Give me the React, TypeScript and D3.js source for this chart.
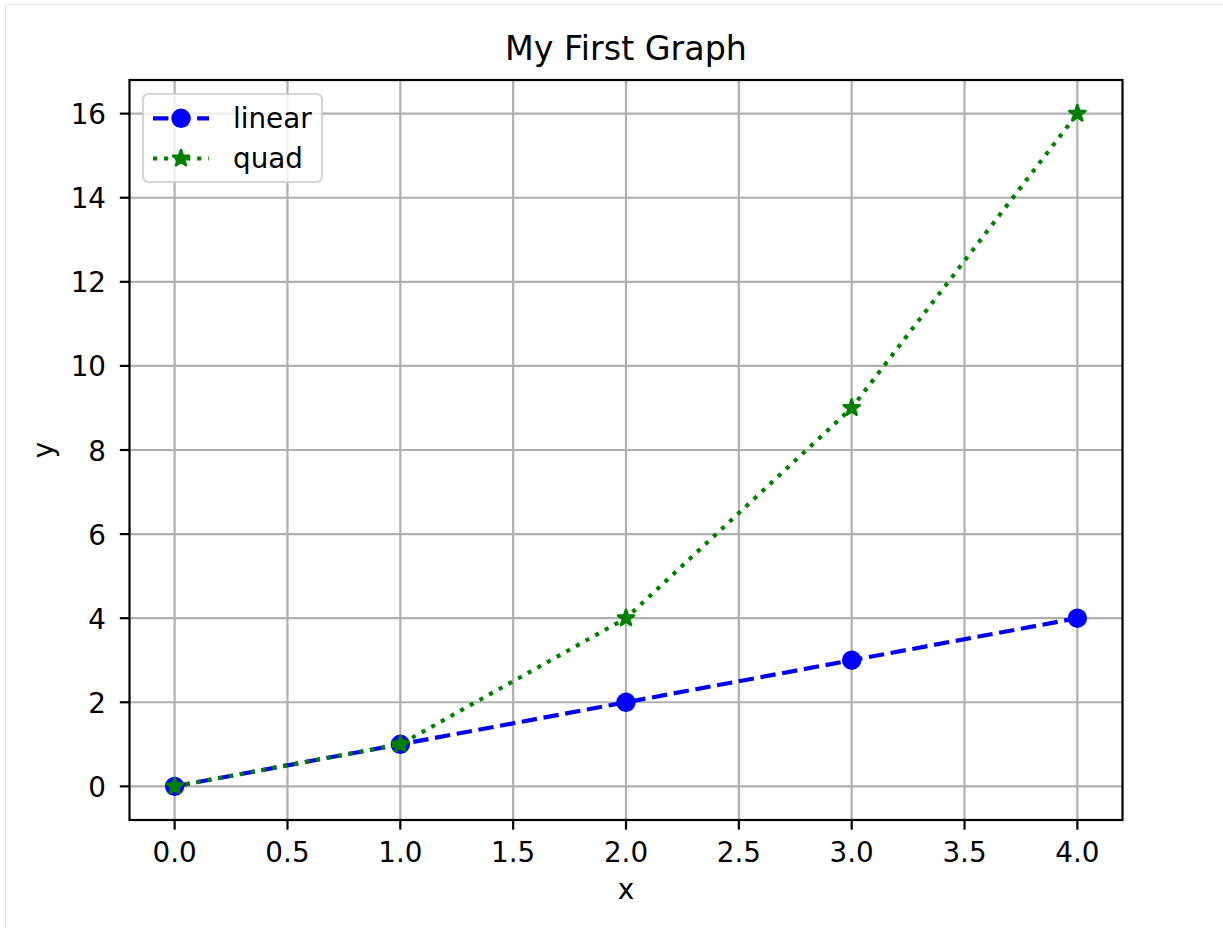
import React from "react";
import * as d3 from "d3";

const xValues = [0, 1, 2, 3, 4];
const linearValues = [0, 1, 2, 3, 4];
const quadValues = [0, 1, 4, 9, 16];
const xTicks = [0, 0.5, 1, 1.5, 2, 2.5, 3, 3.5, 4];
const yTicks = [0, 2, 4, 6, 8, 10, 12, 14, 16];
const seriesNames = ["linear", "quad"];
const titleText = "My First Graph";
const xLabel = "x";
const yLabel = "y";

const W = 1223;
const H = 928;
const L = 129.5, R = 1122.5, T = 80, B = 820;
const FONT = "'DejaVu Sans', sans-serif";
const TICK_FS = 27.8;
const TITLE_FS = 33.3;
const TICK_LEN = 9.7;

const x = d3.scaleLinear().domain([-0.2, 4.2]).range([L, R]);
const y = d3.scaleLinear().domain([-0.8, 16.8]).range([B, T]);

const lineGen = d3
  .line<[number, number]>()
  .x((d) => x(d[0]))
  .y((d) => y(d[1]));

const starPath = d3.symbol(d3.symbolStar, (8.3 * 8.3) / 0.8908130915292852)() as string;

const BLUE = "#0000ff";
const GREEN = "#008000";
const LW = 4.17;
const DASHED = "15.4 6.67";
const DOTTED = "4.17 6.875";

export default function App() {
  const linPts: [number, number][] = xValues.map((v, i) => [v, linearValues[i]]);
  const quadPts: [number, number][] = xValues.map((v, i) => [v, quadValues[i]]);
  const fmt = d3.format(".1f");

  const legX0 = 153, legX1 = 209, legMid = 181, legText = 233;
  const row1 = 118.3, row2 = 158.5;

  return (
    <svg
      width={W}
      height={H}
      style={{ position: "absolute", left: 0, top: 0, display: "block", background: "#fff" }}
      fontFamily={FONT}
    >
      <rect x={0} y={0} width={W} height={H} fill="#ffffff" />
      {/* outer cell frame */}
      <line x1={5.5} y1={4.5} x2={W} y2={4.5} stroke="#e6e6e6" strokeWidth={1.5} />
      <line x1={5.5} y1={4.5} x2={5.5} y2={H} stroke="#e6e6e6" strokeWidth={1.5} />

      {/* grid */}
      <g stroke="#b0b0b0" strokeWidth={2.2}>
        {xTicks.map((t) => (
          <line key={"gx" + t} x1={x(t)} x2={x(t)} y1={T} y2={B} />
        ))}
        {yTicks.map((t) => (
          <line key={"gy" + t} x1={L} x2={R} y1={y(t)} y2={y(t)} />
        ))}
      </g>

      {/* linear series */}
      <path d={lineGen(linPts) as string} fill="none" stroke={BLUE} strokeWidth={LW} strokeDasharray={DASHED} />
      {linPts.map((p, i) => (
        <circle key={"c" + i} cx={x(p[0])} cy={y(p[1])} r={8.3} fill={BLUE} stroke={BLUE} strokeWidth={2.8} />
      ))}

      {/* quad series */}
      <path d={lineGen(quadPts) as string} fill="none" stroke={GREEN} strokeWidth={LW} strokeDasharray={DOTTED} />
      {quadPts.map((p, i) => (
        <path
          key={"s" + i}
          d={starPath}
          transform={`translate(${x(p[0])},${y(p[1])})`}
          fill={GREEN}
          stroke={GREEN}
          strokeWidth={2.8}
          strokeLinejoin="round"
        />
      ))}

      {/* spines */}
      <rect x={L} y={T} width={R - L} height={B - T} fill="none" stroke="#000" strokeWidth={2.2} />

      {/* x ticks */}
      <g>
        {xTicks.map((t) => (
          <g key={"xt" + t}>
            <line x1={x(t)} x2={x(t)} y1={B} y2={B + TICK_LEN} stroke="#000" strokeWidth={2.2} />
            <text x={x(t)} y={862} textAnchor="middle" fontSize={TICK_FS} fill="#000">
              {fmt(t)}
            </text>
          </g>
        ))}
      </g>

      {/* y ticks */}
      <g>
        {yTicks.map((t) => (
          <g key={"yt" + t}>
            <line x1={L - TICK_LEN} x2={L} y1={y(t)} y2={y(t)} stroke="#000" strokeWidth={2.2} />
            <text x={106} y={y(t) + 10.5} textAnchor="end" fontSize={TICK_FS} fill="#000">
              {t}
            </text>
          </g>
        ))}
      </g>

      {/* labels */}
      <text x={(L + R) / 2} y={60} textAnchor="middle" fontSize={TITLE_FS} fill="#000">
        {titleText}
      </text>
      <text x={(L + R) / 2} y={899} textAnchor="middle" fontSize={TICK_FS} fill="#000">
        {xLabel}
      </text>
      <text
        transform={`translate(53,${(T + B) / 2}) rotate(-90)`}
        textAnchor="middle"
        fontSize={TICK_FS}
        fill="#000"
      >
        {yLabel}
      </text>

      {/* legend */}
      <rect
        x={143}
        y={94}
        width={179}
        height={88}
        rx={5.5}
        ry={5.5}
        fill="#ffffff"
        fillOpacity={0.8}
        stroke="#cccccc"
        strokeOpacity={0.8}
        strokeWidth={2.2}
      />
      <line x1={legX0} x2={legX1} y1={row1} y2={row1} stroke={BLUE} strokeWidth={LW} strokeDasharray={DASHED} />
      <circle cx={legMid} cy={row1} r={8.3} fill={BLUE} stroke={BLUE} strokeWidth={2.8} />
      <text x={legText} y={row1 + 9.5} fontSize={TICK_FS} fill="#000">
        {seriesNames[0]}
      </text>
      <line x1={legX0} x2={legX1} y1={row2} y2={row2} stroke={GREEN} strokeWidth={LW} strokeDasharray={DOTTED} />
      <path
        d={starPath}
        transform={`translate(${legMid},${row2})`}
        fill={GREEN}
        stroke={GREEN}
        strokeWidth={2.8}
        strokeLinejoin="round"
      />
      <text x={legText} y={row2 + 9.5} fontSize={TICK_FS} fill="#000">
        {seriesNames[1]}
      </text>
    </svg>
  );
}
